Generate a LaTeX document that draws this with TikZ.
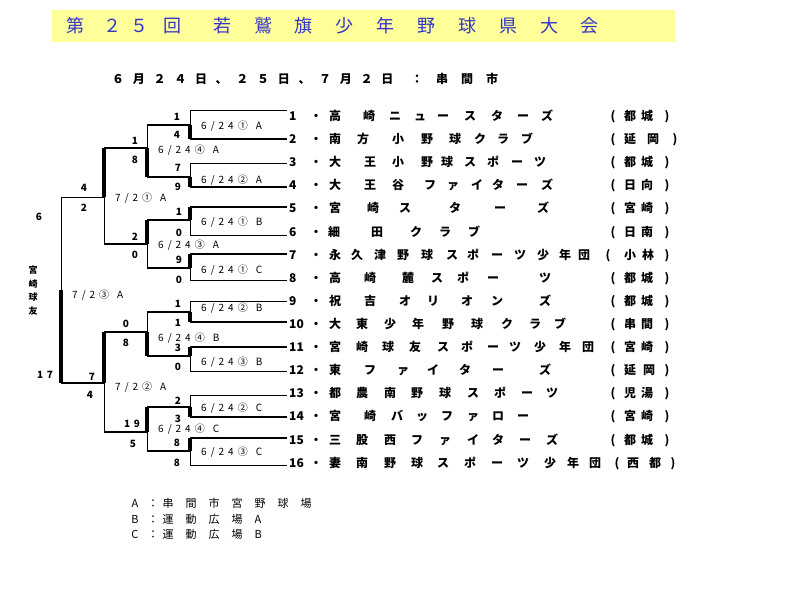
\documentclass[tikz,border=0pt]{standalone}
\usepackage{fontspec}
\setmainfont{Noto Sans CJK JP}
\definecolor{titlebg}{RGB}{255,255,153}
\definecolor{titleblue}{RGB}{51,51,204}

% one team row: number, dot, name and home town, char by char
\newcommand\teamrow[3]{%
  \node[num] (t#1) at (289,#2) {#1};
  \node[nm] (d#1) at (316,#2) {・};
  \foreach \ch/\x [count=\k] in {#3}
    \node[nm] (c#1-\k) at (\x,#2) {\ch};
}

\begin{document}
\begin{tikzpicture}[x=1pt, y=-1pt,
  nm/.style={inner sep=0pt, text height=10pt, text depth=0.8pt,
    font=\bfseries\fontsize{12}{14}\selectfont},
  num/.style={nm, anchor=west},
  sc/.style={inner sep=0pt, text height=7.6pt, text depth=0pt,
    font=\bfseries\fontsize{10}{12}\selectfont\addfontfeatures{LetterSpace=35}},
  lbl/.style={inner sep=0pt, anchor=west, text height=7.8pt, text depth=0.4pt,
    font=\fontsize{10}{12}\selectfont\addfontfeatures{LetterSpace=40}},
  leg/.style={inner sep=0pt, text height=9.1pt, text depth=0.8pt,
    font=\fontsize{11}{13}\selectfont\addfontfeatures{LetterSpace=#1}},
  leg/.default=0,
  ttl/.style={inner sep=0pt, anchor=west, text=titleblue, text height=15pt, text depth=1.3pt,
    font=\fontsize{18}{20}\selectfont\addfontfeatures{LetterSpace=#1}},
  ttl/.default=0,
  datum/.style={inner sep=0pt, anchor=west, text height=10pt, text depth=0.8pt,
    font=\bfseries\fontsize{12}{14}\selectfont\addfontfeatures{LetterSpace=#1}},
  champ/.style={inner sep=0pt, align=center, font=\bfseries\fontsize{9}{13.7}\selectfont},
  ln/.style={line width=1pt},
  win/.style={line width=2.5pt},
  winv/.style={line width=4pt}
]
\useasboundingbox (0,0) rectangle (800,600);

% --- title ---
\fill[titlebg] (52,10) rectangle (675,42);
\node[ttl] (tdai) at (66,26) {第};
\node[ttl=50] (tnum) at (103,26) {２５};
\node[ttl] (tkai) at (163,26) {回};
\node[ttl=127] (tname) at (213,26) {若鷲旗少年野球県大会};

\node[datum=72.5] (date) at (112,79) {６月２４日、２５日、７月２日};
\node[datum=108] (place) at (411,79) {：串間市};

% --- teams ---
\teamrow{1}{116}{高/335,崎/369,ニ/395,ュ/420,ー/443,ス/470,タ/497,ー/523,ズ/547,{(}/613,都/630,城/647,{)}/667}
\teamrow{2}{139}{南/335,方/363,小/398,野/427,球/455,ク/480,ラ/503,ブ/527,{(}/613,延/630,岡/653,{)}/675}
\teamrow{3}{162}{大/335,王/370,小/398,野/427,球/447,ス/470,ポ/493,ー/517,ツ/540,{(}/613,都/630,城/647,{)}/667}
\teamrow{4}{185}{大/335,王/370,谷/398,フ/430,ァ/453,イ/477,タ/498,ー/522,ズ/547,{(}/613,日/630,向/647,{)}/667}
\teamrow{5}{208}{宮/335,崎/373,ス/405,タ/455,ー/500,ズ/543,{(}/613,宮/630,崎/647,{)}/667}
\teamrow{6}{232}{細/334,田/377,ク/416,ラ/445,ブ/474,{(}/613,日/630,南/647,{)}/667}
\teamrow{7}{255}{永/335,久/357,津/380,野/403,球/427,ス/452,ポ/473,ー/497,ツ/520,少/543,年/565,団/584,{(}/608,小/630,林/648,{)}/667}
\teamrow{8}{278}{高/335,崎/370,麓/408,ス/437,ポ/463,ー/493,ツ/545,{(}/613,都/630,城/647,{)}/667}
\teamrow{9}{301}{祝/335,吉/370,オ/405,リ/433,オ/467,ン/497,ズ/545,{(}/613,都/630,城/647,{)}/667}
\teamrow{10}{324}{大/335,東/362,少/390,年/418,野/448,球/477,ク/507,ラ/535,ブ/560,{(}/613,串/630,間/647,{)}/667}
\teamrow{11}{347}{宮/335,崎/362,球/388,友/415,ス/443,ポ/467,ー/493,ツ/515,少/540,年/565,団/588,{(}/613,宮/630,崎/647,{)}/667}
\teamrow{12}{370}{東/335,フ/370,ァ/403,イ/433,タ/465,ー/498,ズ/545,{(}/613,延/630,岡/649,{)}/667}
\teamrow{13}{393}{都/335,農/362,南/390,野/417,球/445,ス/473,ポ/500,ー/527,ツ/552,{(}/613,児/630,湯/647,{)}/667}
\teamrow{14}{416}{宮/335,崎/370,バ/397,ッ/422,フ/447,ァ/473,ロ/498,ー/523,{(}/613,宮/630,崎/647,{)}/667}
\teamrow{15}{440}{三/335,股/362,西/390,フ/417,ァ/445,イ/473,タ/498,ー/525,ズ/552,{(}/613,都/630,城/647,{)}/667}
\teamrow{16}{463}{妻/335,南/362,野/390,球/417,ス/443,ポ/470,ー/497,ツ/523,少/550,年/573,団/595,{(}/617,西/633,都/655,{)}/673}

% --- bracket points ---
\foreach \i/\y in {1/110,2/139,3/163,4/187,5/207,6/235,7/254,8/280,
                   9/301,10/322,11/347,12/371,13/395,14/417,15/438,16/465} {
  \coordinate (e\i) at (287,\y);
  \coordinate (a\i) at (190,\y);
}
\foreach \k/\y in {1/125,2/177,3/220,4/268,5/312,6/356,7/407,8/451} {
  \coordinate (m\k) at (190,\y);
  \coordinate (r\k) at (147,\y);
}
\foreach \k/\y in {1/148,2/244,3/332,4/432} {
  \coordinate (q\k) at (147,\y);
  \coordinate (u\k) at (104,\y);
}
\coordinate (v1) at (104,197);
\coordinate (v2) at (104,383);
\coordinate (w1) at (61,197);
\coordinate (w2) at (61,383);
\coordinate (f) at (61,290);

% --- first round (thin boxes) ---
\draw[ln] (e1) -- (a1) -- (a2) -- (e2);
\draw[ln] (e3) -- (a3) -- (a4) -- (e4);
\draw[ln] (e5) -- (a5) -- (a6) -- (e6);
\draw[ln] (e7) -- (a7) -- (a8) -- (e8);
\draw[ln] (e9) -- (a9) -- (a10) -- (e10);
\draw[ln] (e11) -- (a11) -- (a12) -- (e12);
\draw[ln] (e13) -- (a13) -- (a14) -- (e14);
\draw[ln] (e15) -- (a15) -- (a16) -- (e16);

% winners of the first round
\draw[win] (a2) -- (e2);   \draw[winv] (m1) -- (a2);
\draw[win] (a4) -- (e4);   \draw[winv] (m2) -- (a4);
\draw[win] (a5) -- (e5);   \draw[winv] (a5) -- (m3);
\draw[win] (a7) -- (e7);   \draw[winv] (a7) -- (m4);
\draw[win] (a10) -- (e10); \draw[winv] (m5) -- (a10);
\draw[win] (a11) -- (e11); \draw[winv] (a11) -- (m6);
\draw[win] (a14) -- (e14); \draw[winv] (m7) -- (a14);
\draw[win] (a15) -- (e15); \draw[winv] (a15) -- (m8);

\draw[win] (m1) -- (r1);
\draw[win] (m2) -- (r2);
\draw[win] (m3) -- (r3);
\draw[win] (m4) -- (r4);
\draw[win] (m5) -- (r5);
\draw[win] (m6) -- (r6);
\draw[win] (m7) -- (r7);
\draw[win] (m8) -- (r8);

% --- second round ---
\draw[ln] (r1) -- (r2); \draw[winv] (q1) -- (r2);
\draw[ln] (r3) -- (r4); \draw[winv] (r3) -- (q2);
\draw[ln] (r5) -- (r6); \draw[winv] (q3) -- (r6);
\draw[ln] (r7) -- (r8); \draw[winv] (r7) -- (q4);

\draw[win] (q1) -- (u1);
\draw[win] (q2) -- (u2);
\draw[win] (q3) -- (u3);
\draw[win] (q4) -- (u4);

% --- semifinals ---
\draw[ln] (u1) -- (u2); \draw[winv] (u1) -- (v1); \draw[ln] (v1) -- (w1);
\draw[ln] (u3) -- (u4); \draw[winv] (u3) -- (v2); \draw[win] (v2) -- (w2);

% --- final ---
\draw[ln] (w1) -- (w2); \draw[winv] (f) -- (w2);
\node[champ] (champ) at (33,290.5) {宮\\崎\\球\\友};

% --- scores ---
\node[sc] (s1a) at (177,117) {1};  \node[sc] (s1b) at (177,135) {4};
\node[sc] (s2a) at (178,168) {7};  \node[sc] (s2b) at (178,187) {9};
\node[sc] (s3a) at (179,212) {1};  \node[sc] (s3b) at (179,233) {0};
\node[sc] (s4a) at (179,260) {9};  \node[sc] (s4b) at (179,280) {0};
\node[sc] (s5a) at (178,304) {1};  \node[sc] (s5b) at (178,323) {1};
\node[sc] (s6a) at (178,348) {3};  \node[sc] (s6b) at (178,367) {0};
\node[sc] (s7a) at (178,401) {2};  \node[sc] (s7b) at (178,419) {3};
\node[sc] (s8a) at (177,443) {8};  \node[sc] (s8b) at (177,463) {8};

\node[sc] (p1a) at (135,141) {1};  \node[sc] (p1b) at (135,160) {8};
\node[sc] (p2a) at (135,237) {2};  \node[sc] (p2b) at (135,255) {0};
\node[sc] (p3a) at (126,324) {0};  \node[sc] (p3b) at (126,343) {8};
\node[sc] (p4a) at (132,424) {19}; \node[sc] (p4b) at (133,444) {5};

\node[sc] (h1a) at (84,188) {4};   \node[sc] (h1b) at (84,208) {2};
\node[sc] (h2a) at (92,377) {7};   \node[sc] (h2b) at (90,395) {4};

\node[sc] (fa) at (39,217) {6};    \node[sc] (fb) at (45,375) {17};

% --- match labels ---
\node[lbl] (g1) at (201,126) {6/24①\hspace{8pt}A};
\node[lbl] (g2) at (201,180) {6/24②\hspace{8pt}A};
\node[lbl] (g3) at (201,222) {6/24①\hspace{8pt}B};
\node[lbl] (g4) at (201,270) {6/24①\hspace{8pt}C};
\node[lbl] (g5) at (201,308) {6/24②\hspace{8pt}B};
\node[lbl] (g6) at (201,362) {6/24③\hspace{8pt}B};
\node[lbl] (g7) at (201,408) {6/24②\hspace{8pt}C};
\node[lbl] (g8) at (201,452) {6/24③\hspace{8pt}C};

\node[lbl] (k1) at (158,150) {6/24④\hspace{8pt}A};
\node[lbl] (k2) at (158,245) {6/24③\hspace{8pt}A};
\node[lbl] (k3) at (158,338) {6/24④\hspace{8pt}B};
\node[lbl] (k4) at (158,429) {6/24④\hspace{8pt}C};

\node[lbl] (semi1) at (115,198) {7/2①\hspace{8pt}A};
\node[lbl] (semi2) at (115,387) {7/2②\hspace{8pt}A};
\node[lbl] (fin) at (72,295) {7/2③\hspace{8pt}A};

% --- grounds ---
\node[leg] (keyA) at (135,503) {A};
\node[leg] (colA) at (153,503) {：};
\node[leg=109, anchor=west] (grA) at (162.5,503) {串間市宮野球場};
\node[leg] (keyB) at (135,519) {B};
\node[leg] (colB) at (153,519) {：};
\node[leg=109, anchor=west] (grB) at (162.5,519) {運動広場A};
\node[leg] (keyC) at (135,534) {C};
\node[leg] (colC) at (153,534) {：};
\node[leg=109, anchor=west] (grC) at (162.5,534) {運動広場B};

\end{tikzpicture}
\end{document}
